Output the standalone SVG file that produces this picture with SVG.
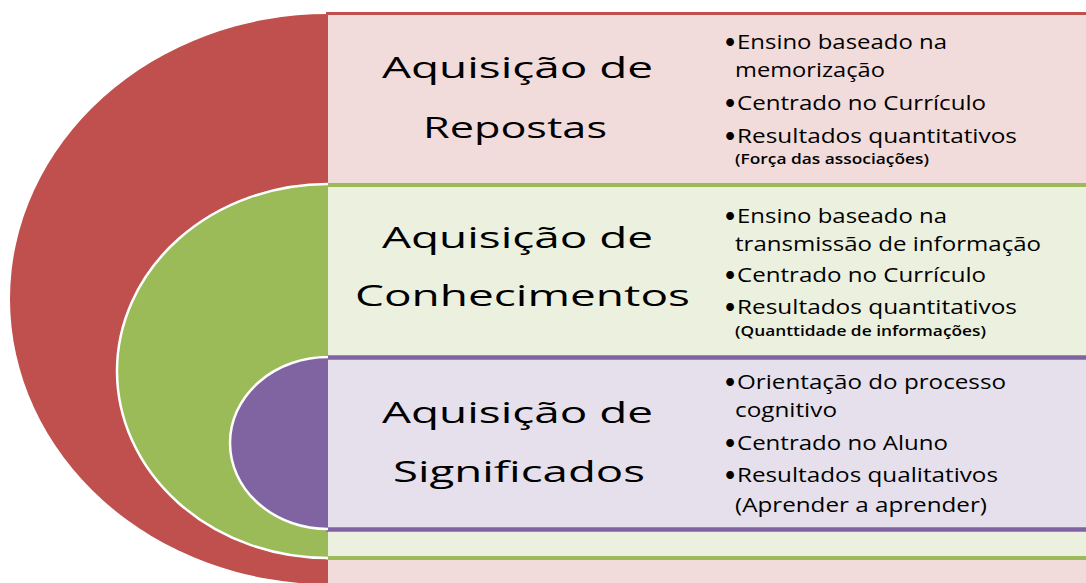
<svg xmlns="http://www.w3.org/2000/svg" width="1086" height="583" viewBox="0 0 1086 583">
<style>
.t{font-family:"Open Sans",Lato,"Liberation Sans",sans-serif;fill:#000}
.h{font-size:30px;font-weight:400}
.b{font-size:20.5px;font-weight:400}
.d{font-family:Lato,"Liberation Sans",sans-serif;font-size:21px}
.s{font-size:14px;font-weight:600}
.curve{stroke:#fff;stroke-width:2.5}
</style>
<rect width="1086" height="583" fill="#fff"/>
<g id="level1">
<rect x="328" y="13.5" width="770" height="580" fill="#f2dcdb"/>
<line x1="326" y1="13.5" x2="1090" y2="13.5" stroke="#c0504d" stroke-width="3"/>
<path d="M328,14 A318,285 0 0 0 328,584 Z" fill="#c0504d"/>
</g>
<g id="level2">
<rect x="328" y="185" width="770" height="373" fill="#ebf1de"/>
<line x1="326" y1="185" x2="1090" y2="185" stroke="#9bbb59" stroke-width="4"/>
<line x1="326" y1="558" x2="1090" y2="558" stroke="#9bbb59" stroke-width="4"/>
<path class="curve" d="M328,184 A211,187 0 0 0 328,558" fill="#9bbb59"/>
</g>
<g id="level3">
<rect x="328" y="357.5" width="770" height="172" fill="#e5e0ec"/>
<line x1="326" y1="357.5" x2="1090" y2="357.5" stroke="#8064a2" stroke-width="4.5"/>
<line x1="326" y1="529.5" x2="1090" y2="529.5" stroke="#8064a2" stroke-width="4.5"/>
<path class="curve" d="M328,357 A98,86 0 0 0 328,529" fill="#8064a2"/>
</g>
<g id="connectors"></g>
<g id="title1" class="t h">
<text x="382" y="78" textLength="271" lengthAdjust="spacingAndGlyphs">Aquisição de</text>
<text x="423" y="138" textLength="184" lengthAdjust="spacingAndGlyphs">Repostas</text>
</g>
<g id="title2" class="t h">
<text x="382" y="248" textLength="271" lengthAdjust="spacingAndGlyphs">Aquisição de</text>
<text x="355" y="306" textLength="335" lengthAdjust="spacingAndGlyphs">Conhecimentos</text>
</g>
<g id="title3" class="t h">
<text x="382" y="423" textLength="271" lengthAdjust="spacingAndGlyphs">Aquisição de</text>
<text x="393" y="482" textLength="252" lengthAdjust="spacingAndGlyphs">Significados</text>
</g>
<g id="list1" class="t">
<text class="d" x="724" y="49">•</text>
<text class="b" x="737" y="49" textLength="210" lengthAdjust="spacingAndGlyphs">Ensino baseado na</text>
<text class="b" x="735" y="77" textLength="150" lengthAdjust="spacingAndGlyphs">memorização</text>
<text class="d" x="724" y="110">•</text>
<text class="b" x="737" y="110" textLength="249" lengthAdjust="spacingAndGlyphs">Centrado no Currículo</text>
<text class="d" x="724" y="142.5">•</text>
<text class="b" x="737" y="142.5" textLength="280" lengthAdjust="spacingAndGlyphs">Resultados quantitativos</text>
<text class="s" x="735" y="164" textLength="194" lengthAdjust="spacingAndGlyphs">(Força das associações)</text>
</g>
<g id="list2" class="t">
<text class="d" x="724" y="222.5">•</text>
<text class="b" x="737" y="222.5" textLength="210" lengthAdjust="spacingAndGlyphs">Ensino baseado na</text>
<text class="b" x="735" y="250.5" textLength="306" lengthAdjust="spacingAndGlyphs">transmissão de informação</text>
<text class="d" x="724" y="281.5">•</text>
<text class="b" x="737" y="281.5" textLength="249" lengthAdjust="spacingAndGlyphs">Centrado no Currículo</text>
<text class="d" x="724" y="314">•</text>
<text class="b" x="737" y="314" textLength="280" lengthAdjust="spacingAndGlyphs">Resultados quantitativos</text>
<text class="s" x="735" y="336" textLength="251" lengthAdjust="spacingAndGlyphs">(Quanttidade de informações)</text>
</g>
<g id="list3" class="t">
<text class="d" x="724" y="389">•</text>
<text class="b" x="737" y="389" textLength="269" lengthAdjust="spacingAndGlyphs">Orientação do processo</text>
<text class="b" x="735" y="416.5" textLength="102" lengthAdjust="spacingAndGlyphs">cognitivo</text>
<text class="d" x="724" y="450">•</text>
<text class="b" x="737" y="450" textLength="211" lengthAdjust="spacingAndGlyphs">Centrado no Aluno</text>
<text class="d" x="724" y="481.5">•</text>
<text class="b" x="737" y="481.5" textLength="261" lengthAdjust="spacingAndGlyphs">Resultados qualitativos</text>
<text class="b" x="735" y="511.5" textLength="252" lengthAdjust="spacingAndGlyphs">(Aprender a aprender)</text>
</g>
</svg>
